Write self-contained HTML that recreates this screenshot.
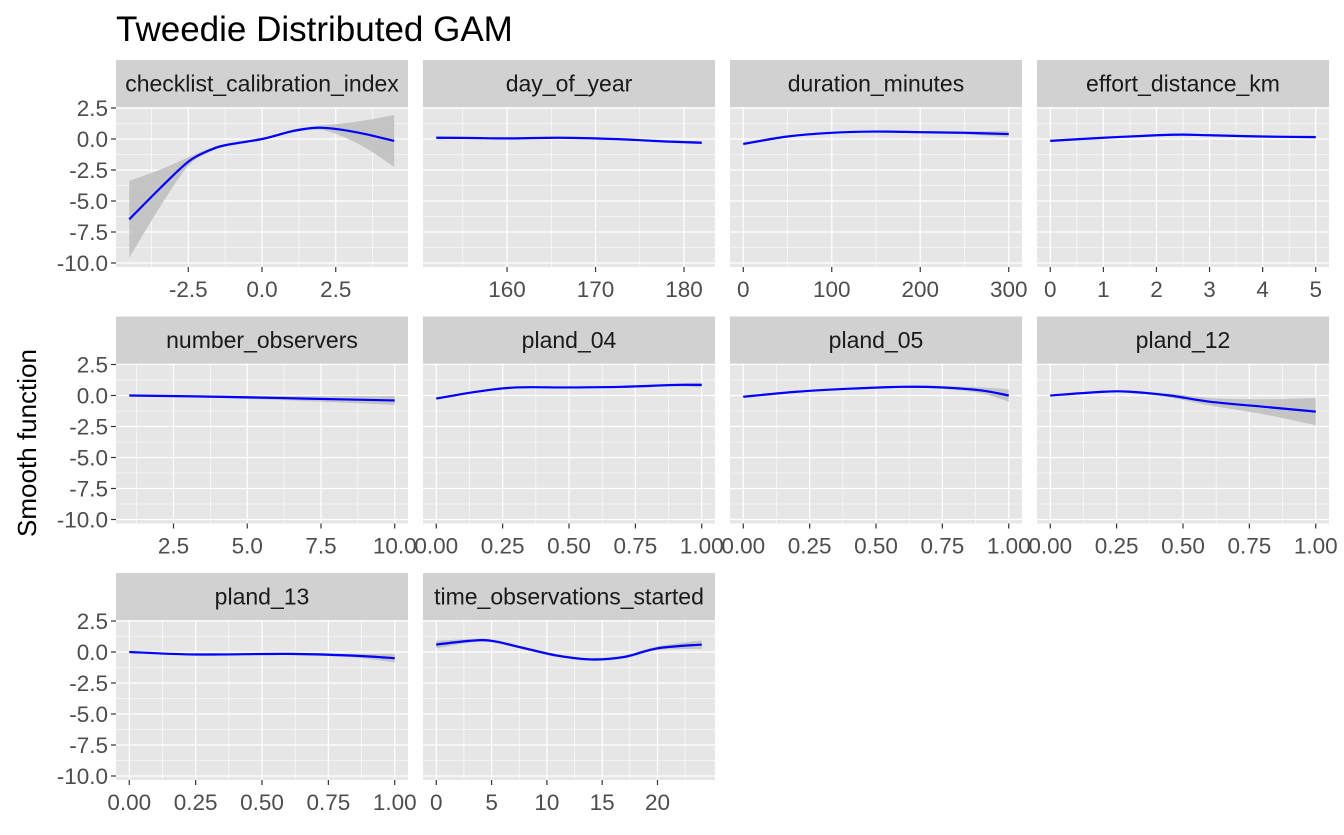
<!DOCTYPE html>
<html><head><meta charset="utf-8"><style>
body{margin:0;background:#fff;}
svg text{font-family:"Liberation Sans",sans-serif;}
</style></head><body>
<svg id="c" width="1344" height="830" xmlns="http://www.w3.org/2000/svg">
<text x="116" y="41" font-size="35" fill="#000">Tweedie Distributed GAM</text>
<text transform="translate(36,443) rotate(-90)" text-anchor="middle" font-size="26" fill="#000">Smooth function</text>
</svg>
<script>
const panelNames=["checklist_calibration_index","day_of_year","duration_minutes","effort_distance_km","number_observers","pland_04","pland_05","pland_12","pland_13","time_observations_started"];
const xDomains=[[-4.5,4.5],[152,182],[0,300],[0,5],[1,10],[0,1],[0,1],[0,1],[0,1],[0,24]];
const xTicks=[[-2.5,0,2.5],[160,170,180],[0,100,200,300],[0,1,2,3,4,5],[2.5,5,7.5,10],[0,0.25,0.5,0.75,1],[0,0.25,0.5,0.75,1],[0,0.25,0.5,0.75,1],[0,0.25,0.5,0.75,1],[0,5,10,15,20]];
const xTickLabels=[["-2.5","0.0","2.5"],["160","170","180"],["0","100","200","300"],["0","1","2","3","4","5"],["2.5","5.0","7.5","10.0"],["0.00","0.25","0.50","0.75","1.00"],["0.00","0.25","0.50","0.75","1.00"],["0.00","0.25","0.50","0.75","1.00"],["0.00","0.25","0.50","0.75","1.00"],["0","5","10","15","20"]];
const yTicks=[2.5,0,-2.5,-5,-7.5,-10];
const yTickLabels=["2.5","0.0","-2.5","-5.0","-7.5","-10.0"];
const xs0=[-4.5,-3.46,-2.5,-1.76,-1.2,0,1.06,1.85,2.53,3.5,4.48];
const fit0=[-6.48,-3.98,-1.83,-0.89,-0.48,0,0.65,0.91,0.8,0.4,-0.16];
const se0=[3.1,1.5,0.35,0.15,0.12,0.1,0.12,0.15,0.4,1.1,2.1];
const xs1=[152,156,160,166,172,178,182];
const fit1=[0.1,0.08,0.05,0.1,0.0,-0.2,-0.3];
const se1=[0.12,0.08,0.06,0.06,0.06,0.08,0.12];
const xs2=[0,50,100,150,200,250,300];
const fit2=[-0.4,0.2,0.5,0.6,0.55,0.5,0.4];
const se2=[0.12,0.08,0.06,0.06,0.08,0.12,0.25];
const xs3=[0,1,2,2.5,3,4,5];
const fit3=[-0.15,0.1,0.3,0.35,0.3,0.2,0.15];
const se3=[0.1,0.06,0.05,0.05,0.06,0.08,0.12];
const xs4=[1,4,7,10];
const fit4=[0,-0.1,-0.25,-0.4];
const se4=[0.02,0.1,0.2,0.35];
const xs5=[0,0.15,0.3,0.5,0.7,0.9,1];
const fit5=[-0.25,0.3,0.65,0.65,0.7,0.85,0.85];
const se5=[0.1,0.08,0.08,0.06,0.08,0.12,0.2];
const xs6=[0,0.2,0.4,0.6,0.75,0.9,1];
const fit6=[-0.1,0.3,0.55,0.7,0.65,0.4,0.0];
const se6=[0.08,0.06,0.06,0.08,0.12,0.25,0.5];
const xs7=[0,0.2,0.3,0.45,0.6,0.8,1];
const fit7=[0,0.3,0.3,0,-0.5,-0.9,-1.3];
const se7=[0.06,0.08,0.1,0.15,0.3,0.6,1.1];
const xs8=[0,0.25,0.6,0.85,1];
const fit8=[0,-0.2,-0.15,-0.3,-0.5];
const se8=[0.04,0.05,0.08,0.15,0.35];
const xs9=[0,3,5,8,11,14,17,20,24];
const fit9=[0.6,0.9,0.9,0.3,-0.3,-0.6,-0.4,0.3,0.6];
const se9=[0.3,0.15,0.12,0.12,0.12,0.12,0.12,0.15,0.35];
const allX=[xs0,xs1,xs2,xs3,xs4,xs5,xs6,xs7,xs8,xs9];
const allFit=[fit0,fit1,fit2,fit3,fit4,fit5,fit6,fit7,fit8,fit9];
const allSe=[se0,se1,se2,se3,se4,se5,se6,se7,se8,se9];

const svg=document.getElementById('c');
const NS="http://www.w3.org/2000/svg";
function mk(tag,attrs,parent){const e=document.createElementNS(NS,tag);for(const k in attrs)e.setAttribute(k,attrs[k]);(parent||svg).appendChild(e);return e;}
const colX=[116,423,730,1037], rowTop=[107,363.5,620], PW=292, PH=160, STRIP=47;
function spline(pts){
  let d="M"+pts[0][0]+","+pts[0][1];
  for(let i=0;i<pts.length-1;i++){
    const p0=pts[Math.max(0,i-1)],p1=pts[i],p2=pts[i+1],p3=pts[Math.min(pts.length-1,i+2)];
    const c1=[p1[0]+(p2[0]-p0[0])/6,p1[1]+(p2[1]-p0[1])/6],c2=[p2[0]-(p3[0]-p1[0])/6,p2[1]-(p3[1]-p1[1])/6];
    d+=" C"+c1[0]+","+c1[1]+" "+c2[0]+","+c2[1]+" "+p2[0]+","+p2[1];
  }
  return d;
}
function splineCont(pts){let d=spline(pts);return d.replace(/^M/," L");}
panelNames.forEach((name,i)=>{
  const r=Math.floor(i/4),c=i%4,x0=colX[c],y0=rowTop[r];
  const g=mk('g',{});
  
  
  const [d0,d1]=xDomains[i];
  const xs=v=>x0+PW*0.05/1.1+(v-d0)/(d1-d0)*PW/1.1;
  const ys=v=>y0+32-v*12.4;
  const strip=mk('rect',{x:x0,y:y0-STRIP,width:PW,height:STRIP,fill:'#d1d1d1'},g);
  
  
  const st=mk('text',{x:x0+PW/2,y:y0-STRIP/2+8,'text-anchor':'middle','font-size':23,fill:'#1a1a1a'},g);
  st.textContent=name;
  
  
  const bg=mk('rect',{x:x0,y:y0,width:PW,height:PH,fill:'#e6e6e6'},g);
  
  
  for(let k=0;k<yTicks.length-1;k++){const v=(yTicks[k]+yTicks[k+1])/2;mk('line',{x1:x0,x2:x0+PW,y1:ys(v),y2:ys(v),stroke:'#fff','stroke-width':0.6},g);}
  const xt=xTicks[i];const step=xt[1]-xt[0];
  for(let v=xt[0]-step/2;v<=d1+step;v+=step){const px=xs(v);if(px>x0&&px<x0+PW)mk('line',{x1:px,x2:px,y1:y0,y2:y0+PH,stroke:'#fff','stroke-width':0.6},g);}
  yTicks.forEach((v,k)=>{mk('line',{x1:x0,x2:x0+PW,y1:ys(v),y2:ys(v),stroke:'#fff','stroke-width':1.2},g);
    if(c===0){mk('line',{x1:x0-5,x2:x0,y1:ys(v),y2:ys(v),stroke:'#333','stroke-width':1.2},g);
      const t=mk('text',{x:x0-8,y:ys(v)+8,'text-anchor':'end','font-size':22.5,fill:'#4d4d4d'},g);t.textContent=yTickLabels[k];
      
      }});
  xt.forEach((v,k)=>{const px=xs(v);mk('line',{x1:px,x2:px,y1:y0,y2:y0+PH,stroke:'#fff','stroke-width':1.2},g);
    mk('line',{x1:px,x2:px,y1:y0+PH,y2:y0+PH+5,stroke:'#333','stroke-width':1.2},g);
    const t=mk('text',{x:px,y:y0+PH+30,'text-anchor':'middle','font-size':22.5,fill:'#4d4d4d'},g);t.textContent=xTickLabels[i][k];
    
    });
  const X=allX[i],F=allFit[i],S=allSe[i];
  const up=X.map((v,k)=>[xs(v),ys(F[k]+S[k])]);
  const lo=X.map((v,k)=>[xs(v),ys(F[k]-S[k])]).reverse();
  const band=mk('path',{d:spline(up)+splineCont(lo)+" Z",fill:'#bdbdbd','fill-opacity':0.85},g);
  
  
  const line=mk('path',{d:spline(X.map((v,k)=>[xs(v),ys(F[k])])),fill:'none',stroke:'#0000ff','stroke-width':2.2},g);
  
  
});
</script>
</body></html>
